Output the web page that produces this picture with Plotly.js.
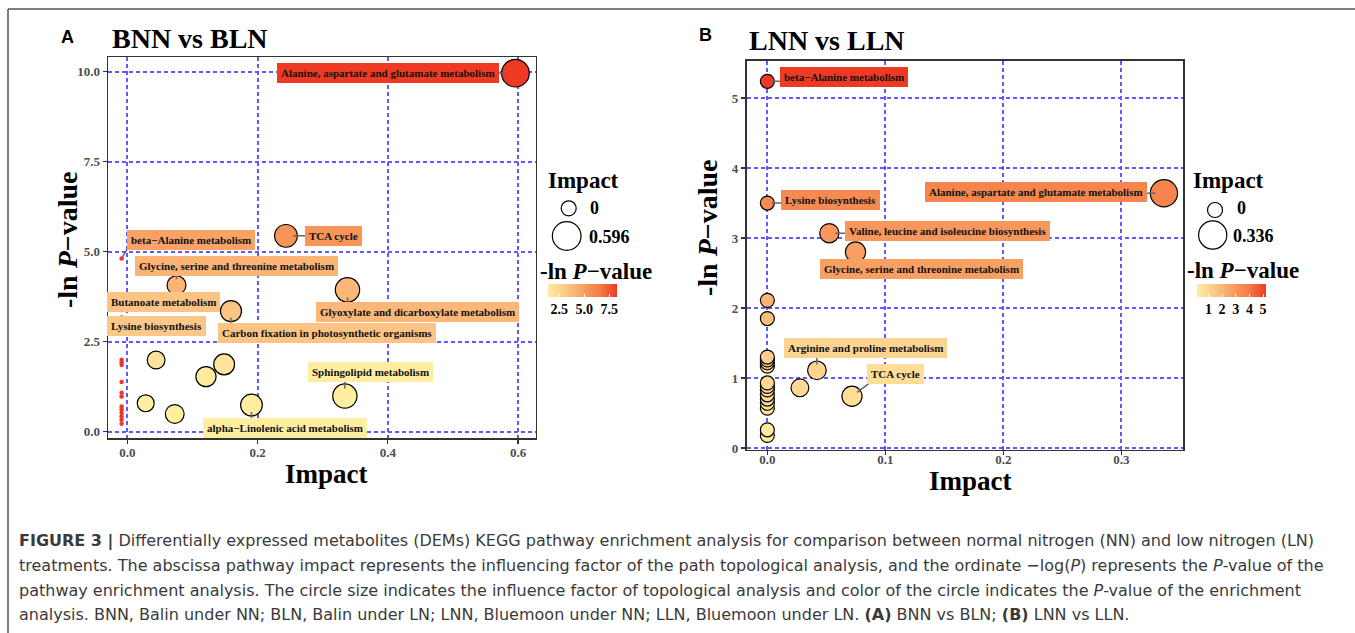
<!DOCTYPE html>
<html><head><meta charset="utf-8">
<script src="https://cdn.plot.ly/plotly-3.0.1.min.js"></script>
<style>html,body{margin:0;padding:0;background:#fff;}#chart{width:1355px;height:633px;}</style>
</head><body><div id="chart"></div>
<script>
// ---------------- Panel A (BNN vs BLN) data ----------------
const A_impact = [0.596, 0.2435, 0.0753, 0.338, 0.159, 0.044, 0.1485, 0.1206, 0.334, 0.028, 0.0726, 0.1905];
const A_lnp    = [9.96, 5.44, 4.07, 3.94, 3.35, 1.99, 1.87, 1.53, 0.99, 0.79, 0.49, 0.74];
const A_names  = ["Alanine, aspartate and glutamate metabolism", "TCA cycle", "Glycine, serine and threonine metabolism",
                  "Glyoxylate and dicarboxylate metabolism", "Carbon fixation in photosynthetic organisms", "", "", "",
                  "Sphingolipid metabolism", "", "", "alpha−Linolenic acid metabolism"];
// zero-impact pathways, drawn as small red dots
const A0_impact = [-0.009, -0.009, -0.009, -0.009, -0.009, -0.009, -0.009, -0.009, -0.009, -0.009, -0.009, -0.009, -0.009, -0.009, -0.009];
const A0_lnp    = [4.81, 3.38, 3.17, 2.00, 1.93, 1.85, 1.38, 1.08, 0.98, 0.70, 0.62, 0.52, 0.42, 0.33, 0.22];
const A0_names  = ["beta−Alanine metabolism", "Butanoate metabolism", "Lysine biosynthesis", "", "", "", "", "", "", "", "", "", "", "", ""];
const A_xticks  = [0, 0.2, 0.4, 0.6];
const A_yticks  = [0, 2.5, 5, 7.5, 10];
const A_cbticks = [2.5, 5.0, 7.5];
const A_colorLimits = [1.4, 8.3];   // range shown by the colour-bar legend

// ---------------- Panel B (LNN vs LLN) data ----------------
const B_impact = [0, 0, 0, 0, 0, 0, 0, 0, 0, 0, 0, 0, 0, 0, 0, 0, 0, 0.042, 0.0276, 0.0717, 0.0747, 0.0525, 0.336];
const B_lnp    = [0.18, 0.26, 0.57, 0.64, 0.70, 0.76, 0.83, 0.88, 0.93, 1.17, 1.22, 1.26, 1.30, 1.85, 2.11, 3.50, 5.24, 1.11, 0.86, 0.74, 2.80, 3.07, 3.64];
const B_names  = ["", "", "", "", "", "", "", "", "", "", "", "", "", "", "", "Lysine biosynthesis", "beta−Alanine metabolism",
                  "Arginine and proline metabolism", "", "TCA cycle", "Glycine, serine and threonine metabolism",
                  "Valine, leucine and isoleucine biosynthesis", "Alanine, aspartate and glutamate metabolism"];
const B_xticks  = [0, 0.1, 0.2, 0.3];
const B_yticks  = [0, 1, 2, 3, 4, 5];
const B_cbticks = [1, 2, 3, 4, 5];

// ---------------- styles / positions (not data) ----------------
const W = 1355, H = 633;
const fx = p => p / W, fy = p => 1 - p / H;
const SERIF = "Liberation Serif, Times New Roman, serif";
const SANS = "Liberation Sans, Arial, sans-serif";
const scale = [[0, '#FFEDA0'], [0.25, '#FCC98A'], [0.5, '#F8A264'], [0.75, '#F47B45'], [1, '#EE3A22']];
function hex2rgb(h) { return [1, 3, 5].map(i => parseInt(h.substr(i, 2), 16)); }
function colorAt(v, lo, hi) {
  const t = Math.min(1, Math.max(0, (v - lo) / (hi - lo)));
  for (let i = 1; i < scale.length; i++) {
    if (t <= scale[i][0]) {
      const f = (t - scale[i - 1][0]) / (scale[i][0] - scale[i - 1][0]);
      const a = hex2rgb(scale[i - 1][1]), b = hex2rgb(scale[i][1]);
      return 'rgb(' + a.map((c, k) => Math.round(c + (b[k] - c) * f)).join(',') + ')';
    }
  }
  return scale[scale.length - 1][1];
}
const D_MIN = 15;
function dia(imp, maxImp, dmax) { return D_MIN + Math.sqrt(Math.max(imp, 0) / maxImp) * (dmax - D_MIN); }

const A_max = Math.max(...A_impact), B_max = Math.max(...B_impact);
const A_lo = A_colorLimits[0], A_hi = A_colorLimits[1];
const B_lo = Math.min(...B_lnp), B_hi = Math.max(...B_lnp);
const A_DMAX = 28.7, B_DMAX = 28.2;

// label offsets (pixels, label centre relative to its point; y downwards)
const labelOffA = {
  "Alanine, aspartate and glutamate metabolism": [-127, 0],
  "TCA cycle": [48, 0],
  "Glycine, serine and threonine metabolism": [60, -19],
  "Glyoxylate and dicarboxylate metabolism": [70, 22],
  "Carbon fixation in photosynthetic organisms": [96, 22],
  "Sphingolipid metabolism": [26, -24],
  "alpha−Linolenic acid metabolism": [34, 23],
  "beta−Alanine metabolism": [69, -19],
  "Butanoate metabolism": [42, -8],
  "Lysine biosynthesis": [35, 8]
};
const labelOffB = {
  "beta−Alanine metabolism": [77, -4],
  "Lysine biosynthesis": [63, -3],
  "Alanine, aspartate and glutamate metabolism": [-128, -1],
  "Valine, leucine and isoleucine biosynthesis": [118, -2.5],
  "Glycine, serine and threonine metabolism": [66, 17],
  "Arginine and proline metabolism": [49, -22],
  "TCA cycle": [43.5, -22]
};

const cbCommon = {
  orientation: 'h', lenmode: 'pixels', len: 69, thickness: 13, xanchor: 'left', yanchor: 'top',
  xpad: 0, ypad: 0, outlinewidth: 0, borderwidth: 0, ticks: 'inside', ticklen: 3, tickcolor: 'white',
  tickangle: 0, tickfont: { family: SERIF, size: 14, color: '#000', weight: 'bold' }, title: { text: '' }
};

const traces = [
  {
    type: 'scatter', mode: 'markers', x: A0_impact, y: A0_lnp, xaxis: 'x', yaxis: 'y', hoverinfo: 'skip',
    marker: { size: 4.5, color: '#E8392A', opacity: 1, line: { width: 0 } }
  },
  {
    type: 'scatter', mode: 'markers', x: A_impact, y: A_lnp, xaxis: 'x', yaxis: 'y', text: A_names,
    marker: {
      size: A_impact.map(v => dia(v, A_max, A_DMAX) - 1), color: A_lnp, colorscale: scale, cmin: A_lo, cmax: A_hi,
      line: { color: '#000', width: 1.2 }, opacity: 1,
      showscale: true, colorbar: Object.assign({}, cbCommon, { x: fx(548.3), y: fy(284.3), tickvals: A_cbticks,
        ticktext: A_cbticks.map(v => v.toFixed(1)) })
    }
  },
  {
    type: 'scatter', mode: 'markers', x: B_impact, y: B_lnp, xaxis: 'x2', yaxis: 'y2', text: B_names,
    marker: {
      size: B_impact.map(v => dia(v, B_max, B_DMAX) - 1), color: B_lnp, colorscale: scale, cmin: B_lo, cmax: B_hi,
      line: { color: '#000', width: 1.2 }, opacity: 1,
      showscale: true, colorbar: Object.assign({}, cbCommon, { x: fx(1197.3), y: fy(284), tickvals: B_cbticks })
    }
  }
];

const axisStyle = {
  showline: true, mirror: true, linecolor: '#333', linewidth: 1.8,
  ticks: 'outside', ticklen: 4, tickwidth: 1.2, tickcolor: '#333',
  showgrid: true, gridcolor: '#6158ff', griddash: '4px,3px', gridwidth: 2, zeroline: false,
  tickfont: { family: SERIF, size: 13, color: '#4d4d4d', weight: 'bold' }, fixedrange: true
};

const anns = [];
function txt(text, x, y, size, opts) {
  anns.push(Object.assign({
    text: text, xref: 'paper', yref: 'paper', x: fx(x), y: fy(y), xanchor: 'left', yanchor: 'middle',
    showarrow: false, font: { family: SERIF, size: size, color: '#000', weight: 'bold' }
  }, opts || {}));
}
const center = { xanchor: 'center', yanchor: 'middle' };
// panel letters and titles
txt('A', 59, 37, 18, { font: { family: SANS, size: 18, color: '#000', weight: 'bold' } });
txt('B', 697, 35, 18, { font: { family: SANS, size: 18, color: '#000', weight: 'bold' } });
txt('BNN vs BLN', 110, 38, 28);
txt('LNN vs LLN', 747, 40, 28);
// axis titles
txt('Impact', 326, 474, 27, center);
txt('Impact', 971, 481, 27, center);
txt('-ln <i>P</i>−value', 68, 240, 28, Object.assign({ textangle: -90 }, center));
txt('-ln <i>P</i>−value', 708, 228, 28, Object.assign({ textangle: -90 }, center));
// legends
txt('Impact', 546, 180, 23);
txt('0', 588, 208, 18);
txt('0.' + String(A_max).split('.')[1], 587, 237, 18);
txt('-ln <i>P</i>−value', 538, 271, 23);
txt('Impact', 1191, 180.5, 23);
txt('0', 1234.5, 208, 18);
txt('0.' + String(B_max).split('.')[1], 1231, 236, 18);
txt('-ln <i>P</i>−value', 1184.5, 270.5, 23);
// caption
const capFont = { family: 'DejaVu Sans, Liberation Sans, sans-serif', size: 16, color: '#3a3a3a' };
txt('<b>FIGURE 3 |</b> Differentially expressed metabolites (DEMs) KEGG pathway enrichment analysis for comparison between normal nitrogen (NN) and low nitrogen (LN)', 17, 541, 16, { font: capFont });
txt('treatments. The abscissa pathway impact represents the influencing factor of the path topological analysis, and the ordinate −log(<i>P</i>) represents the <i>P</i>-value of the', 17, 565.5, 16, { font: capFont });
txt('pathway enrichment analysis. The circle size indicates the influence factor of topological analysis and color of the circle indicates the <i>P</i>-value of the enrichment', 17, 590, 16, { font: capFont });
txt('analysis. BNN, Balin under NN; BLN, Balin under LN; LNN, Bluemoon under NN; LLN, Bluemoon under LN. <b>(A)</b> BNN vs BLN; <b>(B)</b> LNN vs LLN.', 17, 614.5, 16, { font: capFont });

// shapes: outer frame + size-legend circles
const shapes = [
  { type: 'line', xref: 'paper', yref: 'paper', x0: fx(8), x1: fx(1355), y0: fy(9), y1: fy(9), line: { color: '#555', width: 1.5 } },
  { type: 'line', xref: 'paper', yref: 'paper', x0: fx(8), x1: fx(8), y0: fy(9), y1: fy(633), line: { color: '#555', width: 1.5 } }
];
function legCircle(cx, cy, d) {
  const r = d / 2;
  shapes.push({ type: 'circle', xref: 'paper', yref: 'paper', xsizemode: 'pixel', ysizemode: 'pixel',
    xanchor: fx(cx), yanchor: fy(cy), x0: -r, x1: r, y0: -r, y1: r, line: { color: '#000', width: 1.2 }, fillcolor: 'rgba(0,0,0,0)' });
}
legCircle(568.7, 208.3, dia(0, A_max, A_DMAX));
legCircle(566.7, 236, dia(A_max, A_max, A_DMAX));
legCircle(1215, 210, dia(0, B_max, B_DMAX));
legCircle(1212.7, 235, dia(B_max, B_max, B_DMAX));

// point labels (ggrepel-like: box + segment to nearest box point)
const LFS = 11, PAD = 4;
const mctx = document.createElement('canvas').getContext('2d');
function textW(s) { mctx.font = 'bold ' + LFS + 'px "Liberation Serif"'; return mctx.measureText(s).width; }
const clamp = (v, a, b) => Math.min(b, Math.max(a, v));
function addLabels(xs, ys, names, offs, xr, yr, lo, hi, maxImp, dmax, isDot) {
  names.forEach((n, i) => {
    if (!n) return;
    const o = offs[n], ax = o[0], ay = o[1];
    const hw = textW(n) / 2 + PAD, hh = LFS * 0.62 + PAD;
    const nx = clamp(0, ax - hw, ax + hw), ny = clamp(0, ay - hh, ay + hh);
    const L = Math.hypot(nx, ny);
    const d0 = isDot ? 2 : 0.6 * dia(xs[i], maxImp, dmax) / 2;
    if (L > d0 + 0.5) {
      shapes.push({ type: 'line', xref: xr, yref: yr, xsizemode: 'pixel', ysizemode: 'pixel',
        xanchor: xs[i], yanchor: ys[i], x0: nx / L * d0, y0: -ny / L * d0, x1: nx / L * (L + 2), y1: -ny / L * (L + 2),
        line: { color: '#666666', width: 1.5 } });
    }
    anns.push({
      text: n, xref: xr, yref: yr, x: xs[i], y: ys[i], xshift: ax, yshift: -ay, xanchor: 'center', yanchor: 'middle',
      showarrow: false, bgcolor: colorAt(ys[i], lo, hi), borderpad: PAD, borderwidth: 0,
      font: { family: SERIF, size: LFS, color: '#111', weight: 'bold' }
    });
  });
}
addLabels(A_impact, A_lnp, A_names, labelOffA, 'x', 'y', A_lo, A_hi, A_max, A_DMAX, false);
addLabels(A0_impact, A0_lnp, A0_names, labelOffA, 'x', 'y', A_lo, A_hi, A_max, A_DMAX, true);
addLabels(B_impact, B_lnp, B_names, labelOffB, 'x2', 'y2', B_lo, B_hi, B_max, B_DMAX, false);

const layout = {
  width: W, height: H, margin: { l: 0, r: 0, t: 0, b: 0 }, paper_bgcolor: '#fff', plot_bgcolor: '#fff',
  showlegend: false, hovermode: false,
  xaxis: Object.assign({}, axisStyle, { domain: [fx(108.4), fx(535.6)], range: [-0.0293, 0.627], anchor: 'y',
    tickvals: A_xticks, tickformat: '.1f', ticklabelstandoff: -2 }),
  yaxis: Object.assign({}, axisStyle, { domain: [fy(438), fy(57.3)], range: [-0.175, 10.4], anchor: 'x',
    tickvals: A_yticks, tickformat: '.1f' }),
  xaxis2: Object.assign({}, axisStyle, { domain: [fx(746.7), fx(1182.8)], range: [-0.0175, 0.352], anchor: 'y2',
    tickvals: B_xticks, tickformat: '.1f', ticklabelstandoff: -7 }),
  yaxis2: Object.assign({}, axisStyle, { domain: [fy(449.5), fy(61)], range: [-0.021, 5.53], anchor: 'x2',
    tickvals: B_yticks }),
  annotations: anns, shapes: shapes
};
Plotly.newPlot('chart', traces, layout, { staticPlot: true, displayModeBar: false });
</script></body></html>
